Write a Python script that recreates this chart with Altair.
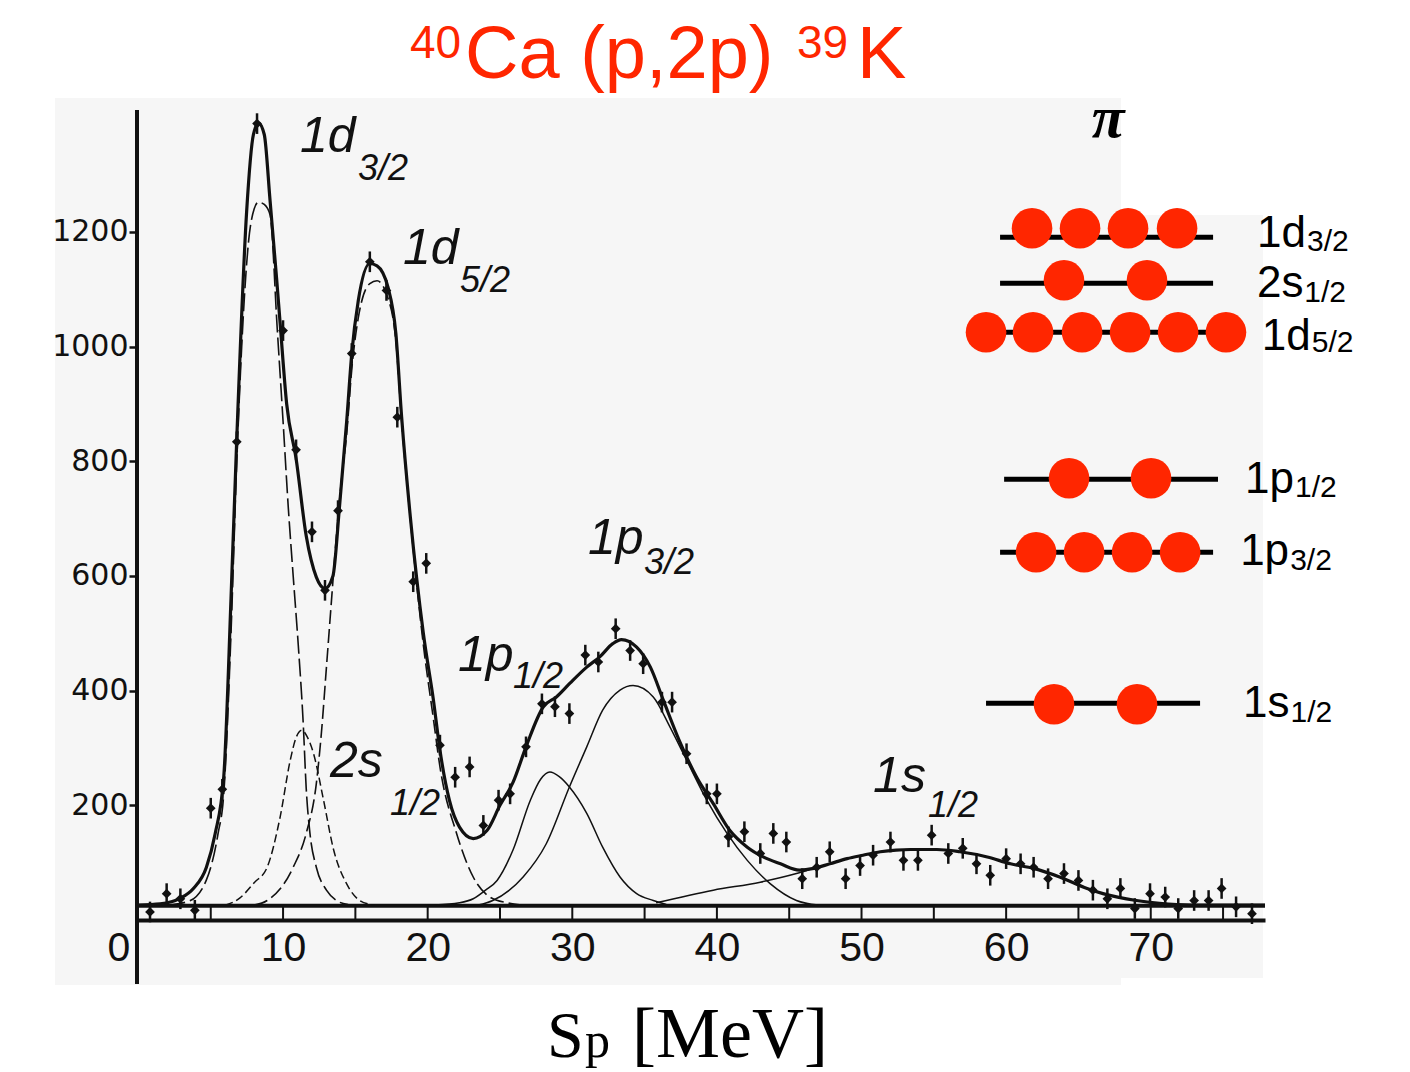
import altair as alt
import pandas as pd

# ---------------- data ----------------
# x = proton separation energy S_p (MeV), y = counts
TOTAL_X = [0.0, 1.5, 2.9, 3.8, 4.7, 5.3, 5.9, 6.4, 6.8, 7.48, 7.95, 8.3, 8.7, 9.1, 9.55, 9.8,
           10.25, 10.9, 11.6, 12.3, 12.9, 13.45, 13.9, 14.4, 14.75, 15.2, 16.0, 16.5, 17.25,
           17.8, 18.2, 18.8, 19.7, 20.4, 20.85, 21.5, 22.2, 23.15, 24.1, 25.0, 25.9, 26.8,
           28.0, 28.9, 29.84, 31.0, 31.9, 32.8, 33.4, 34.45, 35.4, 36.3, 37.4, 38.6, 39.75,
           40.9, 42.1, 43.2, 44.4, 45.7, 46.7, 47.8, 49.0, 50.1, 51.3, 52.4, 53.4, 55.2,
           56.8, 58.7, 60.3, 61.9, 63.7, 65.6, 66.7, 69.0, 70.6, 72.9, 77.9]
TOTAL_Y = [26, 28, 38, 55, 92, 150, 250, 560, 840, 1235, 1370, 1390, 1370, 1255, 1120, 1040,
           900, 805, 670, 598, 578, 600, 720, 870, 988, 1080, 1145, 1141, 1104,
           1023, 877, 703, 500, 383, 296, 209, 162, 142, 156, 200, 240, 302,
           372, 389, 413, 441, 459, 482, 489, 476, 441, 383, 313, 249, 203,
           156, 127, 110, 98, 87, 90, 98, 107, 113, 119, 122, 123, 123,
           119, 110, 98, 90, 75, 55, 46, 34, 29, 26, 26]

D32_X = [2.0, 3.5, 4.7, 5.5, 5.9, 6.4, 6.8, 7.2, 7.6, 8.0, 8.3, 8.7, 9.1, 9.6, 10.0, 10.36,
         10.7, 11.05, 11.4, 11.6, 11.86, 12.3, 13.0, 13.7, 14.5]
D32_Y = [26, 33, 70, 150, 220, 500, 800, 1030, 1180, 1240, 1252, 1248, 1230, 1030, 870, 720,
         600, 480, 340, 230, 151, 92, 52, 34, 27]

S12_X = [6.0, 7.0, 8.0, 8.9, 9.8, 10.5, 10.9, 11.3, 11.7, 12.1, 12.8, 13.5, 14.4, 15.3, 16.3]
S12_Y = [26, 38, 65, 92, 180, 279, 318, 331, 318, 291, 209, 122, 63, 34, 26]

D52_X = [8.0, 8.9, 10.7, 11.6, 12.3, 12.65, 13.0, 13.35, 13.7, 14.05, 14.4, 14.75, 15.2,
         16.0, 16.5, 17.25, 17.8, 18.2, 18.8, 19.7, 20.4, 20.85, 22.0, 23.15, 24.3, 25.5, 26.5]
D52_Y = [26, 34, 92, 151, 238, 326, 441, 558, 674, 770, 848, 960, 1050,
         1110, 1115, 1085, 1010, 870, 700, 480, 350, 267, 151, 75, 40, 30, 26]

P12_X = [20.5, 22.2, 23.15, 24.0, 24.8, 25.9, 27.1, 27.8, 28.45, 29.1, 29.8, 31.0, 32.1,
         33.3, 34.45, 35.6, 36.5]
P12_Y = [26, 30, 37, 52, 69, 122, 209, 245, 258, 250, 232, 186, 127, 75, 46, 34, 27]

P32_X = [23.5, 24.5, 26.6, 28.2, 29.8, 31.0, 32.1, 33.3, 34.2, 35.6, 36.75, 37.9, 39.3,
         40.7, 42.1, 43.7, 45.5, 47.0]
P32_Y = [26, 34, 75, 133, 232, 302, 366, 401, 409, 389, 337, 279, 209, 151, 104, 63, 34, 26]

S1S_X = [35.8, 39.75, 43.0, 45.5, 46.7, 47.8, 49.0, 50.1, 51.3, 52.4, 53.4, 55.2, 56.8,
         58.7, 60.3, 61.9, 63.7, 65.6, 66.7, 69.0, 70.6, 72.9]
S1S_Y = [30, 52, 66, 81, 90, 98, 107, 113, 119, 122, 123, 123, 119,
         110, 98, 90, 75, 55, 46, 34, 29, 26]

BACKGROUND = [25]

PTS_X = [0.8, 1.95, 2.9, 3.9, 5.0, 5.8, 6.8, 8.2, 10.0, 10.9, 12.0, 12.9, 13.8, 14.75, 16.0,
         17.15, 17.9, 19.0, 19.9, 20.85, 21.9, 22.9, 23.85, 24.9, 25.7, 26.8, 27.9, 28.8,
         29.8, 30.9, 31.8, 33.0, 34.0, 34.9, 36.2, 36.9, 37.9, 39.3, 40.0, 40.8, 41.9,
         43.0, 43.9, 44.8, 45.9, 46.9, 47.8, 48.9, 49.9, 50.8, 52.0, 52.9, 53.9, 54.85,
         56.0, 57.0, 57.95, 58.9, 60.0, 61.0, 61.9, 62.9, 64.0, 65.0, 66.0, 67.0, 67.9,
         68.9, 69.95, 71.0, 71.9, 73.0, 74.0, 74.9, 75.9, 77.0]
PTS_Y = [14, 46, 37, 17, 195, 228, 834, 1389, 1028, 820, 677, 575, 714, 988, 1148,
         1098, 877, 590, 622, 305, 249, 267, 165, 209, 220, 302, 377, 372,
         360, 462, 450, 508, 470, 447, 380, 380, 290, 220, 220, 145, 154,
         116, 151, 136, 72, 92, 119, 72, 95, 113, 136, 104, 104, 148,
         116, 125, 98, 78, 107, 98, 92, 72, 81, 69, 52, 37, 55,
         20, 46, 40, 20, 34, 34, 55, 23, 11]
PTS_ERR = 18

X_LABELS = [0, 10, 20, 30, 40, 50, 60, 70]
X_TICKS = [5, 10, 15, 20, 25, 30, 35, 40, 45, 50, 55, 60, 65, 70, 75]
Y_LABELS = [200, 400, 600, 800, 1000, 1200]

# peak annotations (handwritten in the original)
PEAK_MAIN = ["1d", "1d", "2s", "1p", "1p", "1s"]
PEAK_SUB = ["3/2", "5/2", "1/2", "1/2", "3/2", "1/2"]
PEAK_X = [11.17, 18.29, 13.24, 22.1, 31.09, 50.8]
PEAK_Y = [1339, 1145, 249, 435, 638, 223]
PEAK_SUB_X = [15.18, 22.23, 17.39, 25.9, 34.96, 54.6]
PEAK_SUB_Y = [1290, 1095, 183, 404, 604, 179]

# proton shell-occupation diagram (right side)
LEVEL_MAIN = ["1d", "2s", "1d", "1p", "1p", "1s"]
LEVEL_SUB = ["3/2", "1/2", "5/2", "1/2", "3/2", "1/2"]
LEVEL_LINE_Y = [1190.8, 1110.6, 1025.1, 768.8, 641.4, 378.0]
LEVEL_LINE_X1 = [59.58, 59.58, 58.61, 59.86, 59.58, 58.61]
LEVEL_LINE_X2 = [74.31, 74.31, 75.2, 74.65, 74.31, 73.41]
LEVEL_LABEL_X = [77.35, 77.35, 77.68, 76.52, 76.18, 76.38]
LEVEL_LABEL_Y = [1173, 1086, 994, 744, 619, 354]
LEVEL_SUB_X = [80.81, 80.61, 81.13, 79.98, 79.64, 79.66]
LEVEL_SUB_Y = [1166, 1078, 991, 737, 610, 345]
OCC_X = [61.79, 65.11, 68.43, 71.82,
         64.0, 69.74,
         58.61, 61.86, 65.25, 68.57, 71.89, 75.2,
         64.35, 70.02,
         62.07, 65.39, 68.71, 72.03,
         63.31, 69.05]
OCC_Y = [1206.5, 1206.5, 1206.5, 1206.5,
         1115.8, 1115.8,
         1025.1, 1025.1, 1025.1, 1025.1, 1025.1, 1025.1,
         770.5, 770.5,
         641.4, 641.4, 641.4, 641.4,
         376.2, 376.2]
PI_X = [67.05]
PI_Y = [1365]

# ---------------- styling ----------------
RED = "#ff2600"
INK = "#111111"
PANEL = "#f6f6f6"
W, H = 1128, 809

xs = alt.Scale(domain=[-0.1, 77.9], nice=False, zero=False)
ys = alt.Scale(domain=[0, 1411], nice=False, zero=False)

X_AX = alt.Axis(values=X_LABELS, title=None, grid=False, domain=True, domainColor=INK,
                domainWidth=4, ticks=False, labelFont="Liberation Sans Narrow, Liberation Sans",
                labelFontSize=41, labelColor=INK, labelPadding=8, labelFlush=False, zindex=1,
                format="d",
                labelOffset={"condition": {"test": "datum.value === 0", "value": -20}, "value": 0})
Y_AX = alt.Axis(values=Y_LABELS, title=None, grid=False, domain=False, ticks=True, tickSize=8,
                tickWidth=2.5, tickColor=INK, labelFont="DejaVu Sans", labelFontSize=30,
                labelColor=INK, labelPadding=1, zindex=1, format="d")


def X(field):
    return alt.X(field, type="quantitative", scale=xs, axis=X_AX)


def Y(field):
    return alt.Y(field, type="quantitative", scale=ys, axis=Y_AX)


one = pd.DataFrame({"k": [0]})

layers = []

# scanned-figure panel
layers.append(alt.Chart(one).mark_rect(color=PANEL).encode(
    x=alt.value(-82), x2=alt.value(984), y=alt.value(-13), y2=alt.value(874)))
layers.append(alt.Chart(one).mark_rect(color=PANEL).encode(
    x=alt.value(984), x2=alt.value(1126), y=alt.value(104), y2=alt.value(867)))

# background level line
layers.append(alt.Chart(pd.DataFrame({"y": BACKGROUND})).mark_rule(color=INK, strokeWidth=4).encode(
    x=alt.value(0), x2=alt.value(W), y=Y("y")))

# axis ticks between axis line and background line
layers.append(alt.Chart(pd.DataFrame({"x": X_TICKS})).mark_rule(color=INK, strokeWidth=2).encode(
    x=X("x"), y=alt.value(H), y2=alt.value(H - 15)))


def curve(xv, yv, width, dash=None):
    kw = dict(color=INK, strokeWidth=width, interpolate="monotone")
    if dash:
        kw["strokeDash"] = dash
    return alt.Chart(pd.DataFrame({"x": xv, "y": yv})).mark_line(**kw).encode(x=X("x"), y=Y("y"))


layers.append(curve(D32_X, D32_Y, 1.6, [18, 5]))
layers.append(curve(S12_X, S12_Y, 1.5, [8, 4]))
layers.append(curve(D52_X, D52_Y, 1.6, [14, 5]))
layers.append(curve(P12_X, P12_Y, 1.5))
layers.append(curve(P32_X, P32_Y, 1.5))
layers.append(curve(S1S_X, S1S_Y, 1.5))
layers.append(curve(TOTAL_X, TOTAL_Y, 3.2))

# data points with error bars
pts = pd.DataFrame({"x": PTS_X, "y": PTS_Y})
pts["lo"] = pts["y"] - PTS_ERR
pts["hi"] = pts["y"] + PTS_ERR
layers.append(alt.Chart(pts).mark_rule(color=INK, strokeWidth=2.5).encode(
    x=X("x"), y=Y("lo"), y2="hi"))
layers.append(alt.Chart(pts).mark_point(shape="diamond", filled=True, size=95, color=INK,
                                        opacity=1).encode(x=X("x"), y=Y("y")))

# y-axis line (extends below the x axis as in the scan)
layers.append(alt.Chart(one).mark_rule(color=INK, strokeWidth=4).encode(
    x=alt.value(0), y=alt.value(-1), y2=alt.value(873)))

# peak labels
peaks = pd.DataFrame({"main": PEAK_MAIN, "sub": PEAK_SUB, "x": PEAK_X, "y": PEAK_Y,
                      "sx": PEAK_SUB_X, "sy": PEAK_SUB_Y})
layers.append(alt.Chart(peaks).mark_text(align="left", baseline="alphabetic", fontSize=50,
                                         font="Liberation Sans", fontStyle="italic",
                                         color=INK).encode(x=X("x"), y=Y("y"), text="main:N"))
layers.append(alt.Chart(peaks).mark_text(align="left", baseline="alphabetic", fontSize=36,
                                         font="Liberation Sans", fontStyle="italic",
                                         color=INK).encode(x=X("sx"), y=Y("sy"), text="sub:N"))

# shell diagram
lev = pd.DataFrame({"main": LEVEL_MAIN, "sub": LEVEL_SUB, "y": LEVEL_LINE_Y,
                    "x1": LEVEL_LINE_X1, "x2": LEVEL_LINE_X2, "lx": LEVEL_LABEL_X,
                    "ly": LEVEL_LABEL_Y, "sx": LEVEL_SUB_X, "sy": LEVEL_SUB_Y})
layers.append(alt.Chart(lev).mark_rule(color="black", strokeWidth=5).encode(
    x=X("x1"), x2="x2", y=Y("y")))
layers.append(alt.Chart(pd.DataFrame({"x": OCC_X, "y": OCC_Y})).mark_circle(
    color=RED, opacity=1, size=1650).encode(x=X("x"), y=Y("y")))
layers.append(alt.Chart(lev).mark_text(align="left", baseline="alphabetic", fontSize=44,
                                       font="Liberation Sans", color="black").encode(
    x=X("lx"), y=Y("ly"), text="main:N"))
layers.append(alt.Chart(lev).mark_text(align="left", baseline="alphabetic", fontSize=30,
                                       font="Liberation Sans", color="black").encode(
    x=X("sx"), y=Y("sy"), text="sub:N"))
layers.append(alt.Chart(pd.DataFrame({"x": PI_X, "y": PI_Y, "t": ["π"]})).mark_text(
    align="center", baseline="alphabetic", fontSize=60, font="Liberation Serif",
    fontStyle="italic", fontWeight="bold", color="black").encode(x=X("x"), y=Y("y"), text="t:N"))


# title  40Ca (p,2p) 39K
def txt(s, x, y, size, color, font="Liberation Sans"):
    return alt.Chart(one).mark_text(text=s, align="left", baseline="alphabetic", fontSize=size,
                                    font=font, color=color).encode(x=alt.value(x), y=alt.value(y))


layers.append(txt("40", 273, -53, 46, RED))
layers.append(txt("Ca (p,2p) ", 328, -33, 74, RED))
layers.append(txt("39", 660, -53, 46, RED))
layers.append(txt("K", 720, -33, 74, RED))

# x-axis title  S_p [MeV]
layers.append(txt("S", 410, 946, 66, "black", "Liberation Serif"))
layers.append(txt("p", 448, 946, 50, "black", "Liberation Serif"))
layers.append(txt("[MeV]", 495, 946, 72, "black", "Liberation Serif"))

chart = alt.layer(*layers).properties(
    width=W, height=H,
    autosize=alt.AutoSizeParams(type="none"),
    padding={"left": 137, "top": 111, "right": 145, "bottom": 152},
    background="white",
).configure_view(stroke=None)

chart.save("out.html", embed_options={"renderer": "svg", "actions": False})
